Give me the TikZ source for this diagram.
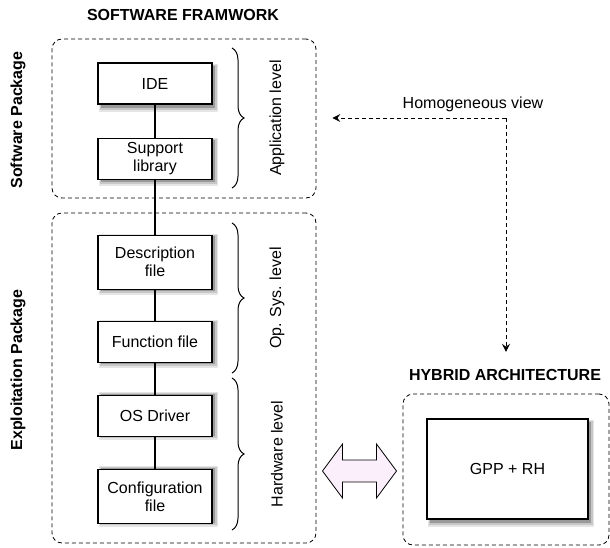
\documentclass[tikz,border=0pt]{standalone}
\usepackage{fontspec}
\setmainfont{Liberation Sans}
\usepackage{xcolor}
\usetikzlibrary{positioning, shapes, arrows.meta, calc, decorations.pathreplacing}
\definecolor{arrowpink}{HTML}{FCEFFC}

\begin{document}
\begin{tikzpicture}[
    x=1pt, y=1pt,
    font=\fontsize{16}{18}\selectfont,
    node distance=32pt,
    block/.style={rectangle, draw=black, line width=1.1pt, fill=white, minimum width=114pt, minimum height=41pt, align=center, inner sep=2pt},
    tallblock/.style={block, minimum height=54pt},
    package/.style={rectangle, draw=black, dash pattern=on 4pt off 3pt, line width=0.8pt, rounded corners=10pt},
    link/.style={-, line width=1.5pt},
    level/.style={decorate, decoration={brace, amplitude=12pt}, line width=1pt},
    viewarrow/.style={-{Stealth[length=8pt, width=8pt, inset=3pt]}, dash pattern=on 4pt off 3pt, line width=0.9pt},
    title/.style={font=\fontsize{16}{18}\selectfont\bfseries}
]
\useasboundingbox (0,0) rectangle (610,-548);

% Soft shadows (drawn first, under the blocks)
\foreach \cx/\cy/\w/\h in {155/-83.5/114/41, 155/-157.5/114/41, 155/-260/114/54, 155/-339/114/41, 155/-411.5/114/41, 155/-491.5/114/54, 507.5/-469/161/100} {
  \fill[black!10] (\cx-\w/2+1,\cy-\h/2-8) rectangle (\cx+\w/2+6,\cy+\h/2-1);
  \fill[black!22] (\cx-\w/2+2,\cy-\h/2-6) rectangle (\cx+\w/2+4.5,\cy+\h/2-2);
  \fill[black!40] (\cx-\w/2+2.5,\cy-\h/2-4) rectangle (\cx+\w/2+3,\cy+\h/2-3);
}

% Package frames
\node[package, minimum width=264pt, minimum height=159pt] (swpkg) at (184,-118.5) {};
\node[package, minimum width=264pt, minimum height=330pt] (exppkg) at (184,-378) {};
\node[package, minimum width=206pt, minimum height=151pt] (hybrid) at (506,-469.5) {};

% Software stack
\node[block] (ide) at (155,-83.5) {IDE};
\node[block, below=33pt of ide] (supportlib) {Support\\library};
\node[tallblock, below=55pt of supportlib] (descfile) {Description\\file};
\node[block, below=31pt of descfile] (funcfile) {Function file};
\node[block, below=32pt of funcfile] (osdriver) {OS Driver};
\node[tallblock, below=32pt of osdriver] (configfile) {Configuration\\file};

% Hardware
\node[block, minimum width=161pt, minimum height=100pt] (gpprh) at (507.5,-469) {GPP + RH};

% Stack links
\draw[link] (ide) -- (supportlib);
\draw[link] (supportlib) -- (descfile);
\draw[link] (descfile) -- (funcfile);
\draw[link] (funcfile) -- (osdriver);
\draw[link] (osdriver) -- (configfile);

% Levels
\draw[level] (232,-48) -- (232,-188);
\draw[level] (232,-223) -- (232,-373);
\draw[level] (232,-378) -- (232,-530);
\node[rotate=90] (applevel) at (277,-118) {Application level};
\node[rotate=90] (oslevel) at (277,-298) {Op. Sys. level};
\node[rotate=90] (hwlevel) at (277,-454) {Hardware level};

% Titles
\node[title] (swtitle) at (183,-15) {SOFTWARE FRAMWORK};
\node[title] (hybtitle) at (505,-375) {HYBRID ARCHITECTURE};
\node[title, rotate=90] (swlabel) at (18,-120) {Software Package};
\node[title, rotate=90] (explabel) at (18,-370) {Exploitation Package};

% Homogeneous view
\coordinate (corner) at (506,-118);
\node (hview) at (473,-104) {Homogeneous view};
\draw[viewarrow] (corner) -- ($(swpkg.east |- corner)+(16,0)$);
\draw[viewarrow, shorten >=14pt] (corner) -- (corner |- hybtitle.north);

% Exploitation <-> hardware
\coordinate (bridge) at ($(exppkg.east)!0.5!(hybrid.west |- exppkg.east)$);
\coordinate (bridgec) at (bridge |- 0,-471);
\draw[line width=0.8pt, fill=arrowpink, line join=miter]
    ($(bridgec)+(-37,0)$) -- ++(20,27) -- ++(0,-16) -- ++(34,0) -- ++(0,16)
    -- ($(bridgec)+(37,0)$) -- ++(-20,-27) -- ++(0,16) -- ++(-34,0) -- ++(0,-16) -- cycle;

\end{tikzpicture}
\end{document}
